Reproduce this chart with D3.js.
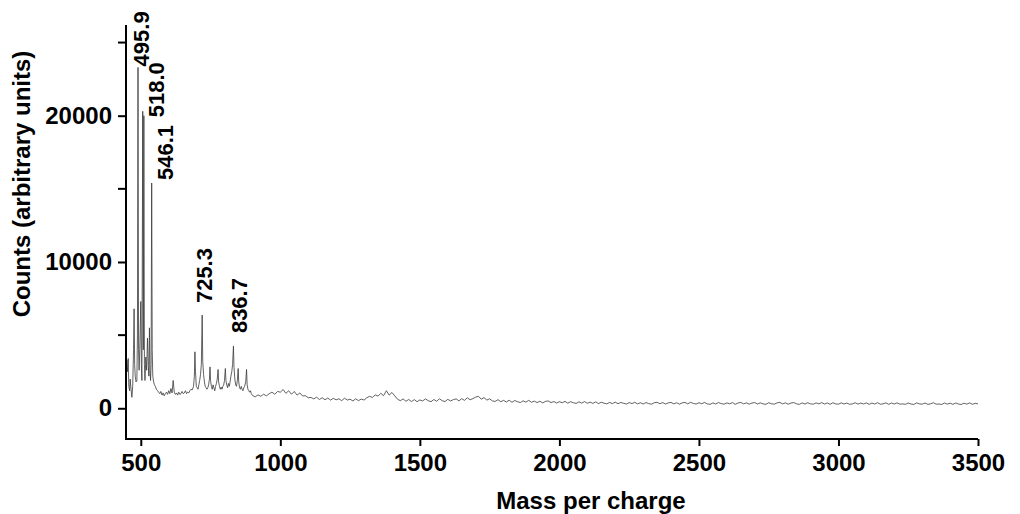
<!DOCTYPE html>
<html>
<head>
<meta charset="utf-8">
<script src="https://cdn.jsdelivr.net/npm/d3@7"></script>
<style>
  html, body { margin: 0; padding: 0; background: #fff; }
  svg { display: block; }
  text { font-family: "Liberation Sans", Arial, Helvetica, sans-serif; font-weight: bold; fill: #000; }
</style>
</head>
<body>
<svg id="chart" width="1020" height="514"></svg>
<script>
// ---------- DATA ----------
const massPerCharge = [
  447,450,452,455,457,460,462,465,468,471,474,476,478,480,483,486,488,490,492,494,
  497,500,502,504,507,509,511,513,515,518,521,524,527,529,531,533,535,537,539,541,
  543,546,549,552,556,560,564,568,572,576,580,584,588,592,596,600,604,608,612,616,
  620,624,628,632,636,640,644,648,652,656,660,664,668,672,676,680,684,689,692,694,
  696,699,702,705,708,711,714,717,720,722,725,728,731,734,737,740,743,746,748,750,
  753,756,759,762,765,768,771,774,777,779,782,785,788,791,794,797,800,803,805,808,
  811,814,817,820,823,826,829,832,834,837,840,843,846,849,851,854,857,860,863,866,
  869,872,876,879,881,884,887,890,893,896,
  900,910,920,930,940,950,960,970,980,990,1000,
  1010,1020,1030,1040,1050,1060,1070,1080,1090,1100,
  1110,1120,1130,1140,1150,1160,1170,1180,1190,1200,
  1210,1220,1230,1240,1250,1260,1270,1280,1290,1300,
  1310,1320,1330,1340,1350,1360,1370,1380,1390,1400,
  1410,1420,1430,1440,1450,1460,1470,1480,1490,1500,
  1510,1520,1530,1540,1550,1560,1570,1580,1590,1600,
  1610,1620,1630,1640,1650,1660,1670,1680,1690,1700,
  1710,1720,1730,1740,1750,1760,1770,1780,1790,1800,
  1810,1820,1830,1840,1850,1860,1870,1880,1890,1900,
  1910,1920,1930,1940,1950,1960,1970,1980,1990,2000,
  2010,2020,2030,2040,2050,2060,2070,2080,2090,2100,
  2110,2120,2130,2140,2150,2160,2170,2180,2190,2200,
  2210,2220,2230,2240,2250,2260,2270,2280,2290,2300,
  2310,2320,2330,2340,2350,2360,2370,2380,2390,2400,
  2410,2420,2430,2440,2450,2460,2470,2480,2490,2500,
  2510,2520,2530,2540,2550,2560,2570,2580,2590,2600,
  2610,2620,2630,2640,2650,2660,2670,2680,2690,2700,
  2710,2720,2730,2740,2750,2760,2770,2780,2790,2800,
  2810,2820,2830,2840,2850,2860,2870,2880,2890,2900,
  2910,2920,2930,2940,2950,2960,2970,2980,2990,3000,
  3010,3020,3030,3040,3050,3060,3070,3080,3090,3100,
  3110,3120,3130,3140,3150,3160,3170,3180,3190,3200,
  3210,3220,3230,3240,3250,3260,3270,3280,3290,3300,
  3310,3320,3330,3340,3350,3360,3370,3380,3390,3400,
  3410,3420,3430,3440,3450,3460,3470,3480,3490,3500
];
const counts = [
  2900,3300,2500,3400,1500,1200,2000,1300,750,1500,4000,6800,3000,2200,1800,1900,5000,23300,4000,2600,
  4500,7300,3000,1900,20300,4000,20000,3000,1900,3500,2600,4800,2900,2200,5500,2600,1900,3000,15400,4000,
  2200,1800,1600,1500,1300,1200,1100,1000,1150,900,1050,850,1000,1100,950,1200,1000,1350,1050,1900,
  1100,950,1050,900,1100,950,1000,1150,1000,1050,1200,1000,1100,1050,1200,1300,1250,1500,2200,3860,
  2500,1500,1400,1300,1600,1900,2300,3000,6370,3200,2300,1800,1500,1400,1300,1400,1600,2000,2830,1900,
  1500,1300,1600,1400,1200,1500,1700,2000,2650,1800,1500,1300,1450,1300,1500,1600,1900,2720,1900,1600,
  1400,1700,1500,1800,2200,2500,3000,4250,2800,2000,1600,1500,1900,2720,1800,1400,1300,1500,1300,1200,
  1400,1500,1800,2650,1600,1300,1200,1100,1200,1000,
  880,780,920,820,960,850,990,1100,960,1150,1100,
  1280,1020,1200,960,1150,900,1050,840,860,720,
  740,640,760,600,720,580,700,560,680,580,
  650,520,690,560,620,500,650,520,630,560,
  720,820,740,920,830,1020,860,1200,900,1080,
  850,620,520,640,480,600,460,590,450,570,
  500,640,520,450,600,480,650,520,460,610,
  500,590,640,510,660,540,720,580,660,760,
  820,620,730,560,650,500,470,590,450,540,
  430,550,410,530,450,390,510,420,540,410,
  490,390,480,370,470,500,390,460,360,450,
  380,470,350,450,380,330,440,350,460,340,
  420,330,440,320,410,350,300,400,320,420,
  310,400,340,290,390,320,410,300,380,290,
  390,320,280,380,410,310,390,290,370,400,
  300,380,280,370,400,300,410,330,290,380,
  310,400,300,270,370,290,390,320,280,370,
  300,390,270,360,400,300,370,280,360,390,
  290,370,300,270,380,310,280,370,400,300,
  370,280,360,390,300,270,370,290,380,300,
  280,370,300,390,290,360,270,380,300,280,
  370,290,360,270,300,380,280,360,290,370,
  270,360,290,380,280,300,370,270,360,290,
  370,280,300,270,360,290,260,370,300,280,
  360,270,300,380,280,290,260,360,280,350,
  270,360,290,260,350,280,370,270,340,300
];
// annotated peaks: label text, drawn peak position (mass, counts)
const peakLabels = ["495.9", "518.0", "546.1", "725.3", "836.7"];
const peakMass   = [490, 507, 539, 720, 832];
const peakCounts = [23300, 20300, 15400, 6370, 4250];

const xTicks = [500, 1000, 1500, 2000, 2500, 3000, 3500];
const yTicks = [0, 10000, 20000];
const yMinorTicks = [5000, 15000, 25000];
const xTitle = "Mass per charge";
const yTitle = "Counts (arbitrary units)";

// ---------- LAYOUT ----------
const mLeft = 126, mRight = 978, mTop = 25, mBottom = 439;
const svg = d3.select("#chart");
svg.append("rect").attr("width", 1020).attr("height", 514).attr("fill", "#fff");

const x = d3.scaleLinear().domain([447, 3500]).range([mLeft, mRight]);
const y = d3.scaleLinear().domain([-2100, 26200]).range([mBottom, mTop]);

// spectrum line
const pts = massPerCharge.map((m, i) => [m, counts[i]]);
svg.append("path")
  .datum(pts)
  .attr("fill", "none")
  .attr("stroke", "#3a3a3a")
  .attr("stroke-width", 0.8)
  .attr("stroke-linejoin", "miter")
  .attr("d", d3.line().x(d => x(d[0])).y(d => y(d[1])));

// x axis
const gx = svg.append("g").attr("transform", `translate(0,${mBottom})`)
  .call(d3.axisBottom(x).tickValues(xTicks).tickFormat(d3.format("d")).tickSize(7).tickSizeOuter(0).tickPadding(8));
gx.select(".domain").attr("stroke", "#000").attr("stroke-width", 2).attr("d", `M${mLeft - 1},0H${mRight}`);
gx.selectAll(".tick line").attr("stroke", "#000").attr("stroke-width", 2);
gx.selectAll(".tick text").style("font-size", "24px").attr("fill", "#000")
  .style("font-family", '"Liberation Sans", Arial, sans-serif').style("font-weight", "bold");

// y axis
const gy = svg.append("g").attr("transform", `translate(${mLeft},0)`)
  .call(d3.axisLeft(y).tickValues(yTicks).tickFormat(d3.format("d")).tickSize(8).tickSizeOuter(0).tickPadding(6));
gy.select(".domain").attr("stroke", "#000").attr("stroke-width", 2).attr("d", `M0,${mTop}V${mBottom + 1}`);
gy.selectAll(".tick line").attr("stroke", "#000").attr("stroke-width", 2);
gy.selectAll(".tick text").style("font-size", "24px").attr("fill", "#000")
  .style("font-family", '"Liberation Sans", Arial, sans-serif').style("font-weight", "bold");

// y minor ticks
svg.append("g").selectAll("line").data(yMinorTicks).join("line")
  .attr("x1", mLeft - 8).attr("x2", mLeft)
  .attr("y1", d => y(d)).attr("y2", d => y(d))
  .attr("stroke", "#000").attr("stroke-width", 2);

// axis titles
svg.append("text")
  .attr("x", 591).attr("y", 509)
  .attr("text-anchor", "middle")
  .style("font-size", "24px")
  .text(xTitle);

svg.append("text")
  .attr("transform", `translate(30,184) rotate(-90)`)
  .attr("text-anchor", "middle")
  .style("font-size", "24px")
  .text(yTitle);

// peak labels (rotated)
const labelDx = [11, 21, 21, 10, 14];
const labelDy = [-1, 6, -3, -12, -13];
svg.append("g").selectAll("text").data(peakLabels).join("text")
  .attr("transform", (d, i) => `translate(${x(peakMass[i]) + labelDx[i]},${y(peakCounts[i]) + labelDy[i]}) rotate(-90)`)
  .attr("text-anchor", "start")
  .style("font-size", "22px")
  .text(d => d);
</script>
</body>
</html>
